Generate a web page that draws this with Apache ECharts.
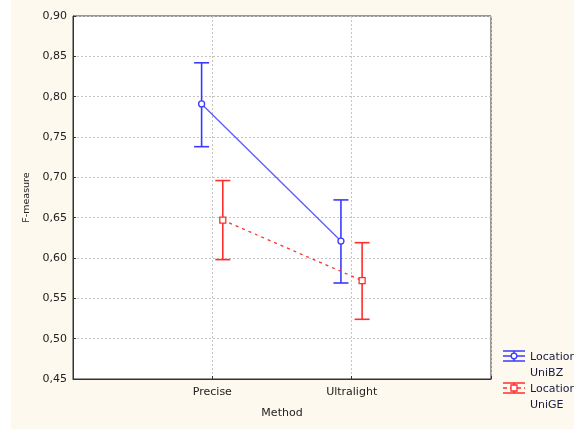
<!DOCTYPE html>
<html><head><meta charset="utf-8">
<script src="https://cdn.jsdelivr.net/npm/echarts@6/dist/echarts.min.js"></script>
<style>html,body{margin:0;padding:0;background:#fff}#c{width:574px;height:430px}</style>
</head><body><div id="c"></div>
<script>
var categories = ['Precise', 'Ultralight'];
var catPositions = [1, 2];
var seriesNames = ['Location\nUniBZ', 'Location\nUniGE'];
var uniBZMean = [0.791, 0.621];
var uniBZLow = [0.738, 0.569];
var uniBZHigh = [0.842, 0.672];
var uniGEMean = [0.647, 0.572];
var uniGELow = [0.598, 0.524];
var uniGEHigh = [0.696, 0.619];
var yTicks = [0.45, 0.50, 0.55, 0.60, 0.65, 0.70, 0.75, 0.80, 0.85, 0.90];
var offsets = [-0.077, 0.075];

var BLUE = '#3a3aff', RED = '#ff2e2e';
var FONT = 'DejaVu Sans';

function pts(mean, off) { return mean.map(function (m, i) { return [catPositions[i] + off, m]; }); }
function errData(low, high, off) { return low.map(function (l, i) { return [catPositions[i] + off, l, high[i]]; }); }
function errSeries(low, high, off, color) {
  return {
    type: 'custom', z: 3,
    data: errData(low, high, off),
    encode: { x: 0, y: [1, 2] },
    renderItem: function (params, api) {
      var x = api.value(0);
      var p1 = api.coord([x, api.value(1)]);
      var p2 = api.coord([x, api.value(2)]);
      var w = 7.5;
      var st = { stroke: color, lineWidth: 1.6 };
      return { type: 'group', children: [
        { type: 'line', shape: { x1: p1[0], y1: p1[1], x2: p2[0], y2: p2[1] }, style: st },
        { type: 'line', shape: { x1: p1[0] - w, y1: p1[1], x2: p1[0] + w, y2: p1[1] }, style: st },
        { type: 'line', shape: { x1: p2[0] - w, y1: p2[1], x2: p2[0] + w, y2: p2[1] }, style: st }
      ]};
    }
  };
}

var chart = echarts.init(document.getElementById('c'));
var legendItems = [];
[[BLUE, 'solid', 'circle', 0], [RED, 'dashed', 'rect', 1]].forEach(function (d, k) {
  var cy = 356 + k * 32;
  var st = { stroke: d[0], lineWidth: 1.5, lineDash: d[1] === 'dashed' ? [4, 3] : null };
  legendItems.push({ type: 'line', shape: { x1: 503, y1: cy, x2: 525, y2: cy }, style: st, z: 10 });
  legendItems.push({ type: 'line', shape: { x1: 503, y1: cy - 5, x2: 525, y2: cy - 5 }, style: { stroke: d[0], lineWidth: 1.5 }, z: 10 });
  legendItems.push({ type: 'line', shape: { x1: 503, y1: cy + 5, x2: 525, y2: cy + 5 }, style: { stroke: d[0], lineWidth: 1.5 }, z: 10 });
  legendItems.push({ type: 'line', shape: { x1: 514, y1: cy - 5, x2: 514, y2: cy + 5 }, style: { stroke: d[0], lineWidth: 1.5 }, z: 10 });
  if (d[2] === 'circle') legendItems.push({ type: 'circle', shape: { cx: 514, cy: cy, r: 2.8 }, style: { fill: '#fff', stroke: d[0], lineWidth: 1.3 }, z: 11 });
  else legendItems.push({ type: 'rect', shape: { x: 511, y: cy - 3, width: 6, height: 6 }, style: { fill: '#fff', stroke: d[0], lineWidth: 1.3 }, z: 11 });
  legendItems.push({ type: 'text', x: 530, y: cy - 7, style: { text: seriesNames[k], font: '11px "' + FONT + '"', fill: '#1a1a40', lineHeight: 16 }, z: 10 });
});

chart.setOption({
  animation: false,
  backgroundColor: '#ffffff',
  textStyle: { fontFamily: FONT },
  graphic: [{ type: 'rect', shape: { x: 11, y: 0, width: 563, height: 429 }, style: { fill: '#fef9ee' }, z: -10, silent: true }].concat(legendItems),
  grid: { left: 73, right: 83, top: 16, bottom: 51, show: true, backgroundColor: '#ffffff', borderColor: '#333', borderWidth: 1 },
  xAxis: {
    type: 'value', min: 0, max: 3, interval: 1,
    name: 'Method', nameLocation: 'middle', nameGap: 29,
    nameTextStyle: { fontSize: 11, color: '#222', fontFamily: FONT },
    axisLine: { show: true, lineStyle: { color: '#333' } },
    axisTick: { show: true, inside: true, length: 3, lineStyle: { color: '#333' } },
    axisLabel: { fontSize: 11, color: '#222', margin: 8, fontFamily: FONT, formatter: function (v) { var i = catPositions.indexOf(v); return i >= 0 ? categories[i] : ''; } },
    splitLine: { show: true, lineStyle: { color: '#c4c4c4', type: [2, 2] } }
  },
  yAxis: {
    type: 'value', min: yTicks[0], max: yTicks[yTicks.length - 1], interval: 0.05,
    name: 'F-measure', nameLocation: 'middle', nameGap: 39, nameRotate: 90,
    nameTextStyle: { fontSize: 9.5, color: '#222', fontFamily: FONT },
    axisLine: { show: true, lineStyle: { color: '#333' } },
    axisTick: { show: true, inside: true, length: 3, lineStyle: { color: '#333' } },
    axisLabel: { fontSize: 11, color: '#222', margin: 6, fontFamily: FONT, formatter: function (v) { return v.toFixed(2).replace('.', ','); } },
    splitLine: { show: true, lineStyle: { color: '#c4c4c4', type: [2, 2] } }
  },
  series: [
    errSeries(uniBZLow, uniBZHigh, offsets[0], BLUE),
    errSeries(uniGELow, uniGEHigh, offsets[1], RED),
    { type: 'line', z: 4, data: pts(uniBZMean, offsets[0]), symbol: 'circle', symbolSize: 6, showSymbol: true,
      lineStyle: { color: '#5a5aff', width: 1.3 }, itemStyle: { color: '#fff', borderColor: BLUE, borderWidth: 1.3 } },
    { type: 'line', z: 4, data: pts(uniGEMean, offsets[1]), symbol: 'rect', symbolSize: 6, showSymbol: true,
      lineStyle: { color: RED, width: 1.3, type: [3, 4] }, itemStyle: { color: '#fff', borderColor: RED, borderWidth: 1.3 } }
  ]
});
</script></body></html>
